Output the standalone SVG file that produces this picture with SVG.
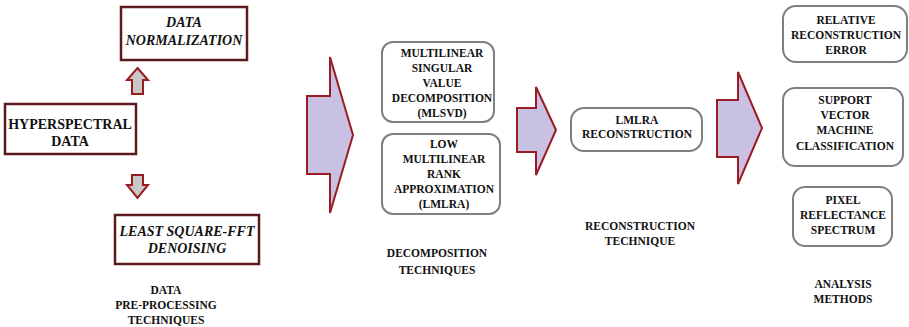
<svg xmlns="http://www.w3.org/2000/svg" width="909" height="327" viewBox="0 0 909 327">
<style>
.bg{fill:#ffffff}
.sq{fill:#ffffff;stroke:#5a1a1e;stroke-width:2.5}
.rr{fill:#ffffff;stroke:#7f7f7f;stroke-width:2}
.big{fill:#c9c1e3;stroke:#9a1c22;stroke-width:2;stroke-linejoin:miter}
.sm{fill:#c8c8c8;stroke:#9a1c22;stroke-width:2}
text{font-family:"Liberation Serif","DejaVu Serif",serif;font-weight:bold;fill:#111111;text-anchor:middle}
.t{font-size:11.5px}
.it{font-size:14px;font-style:italic}
.hd{font-size:14px}
</style>
<rect class="bg" x="0" y="0" width="909" height="327"/>
<g id="connectors">
  <polygon class="sm" points="137.5,68 148,80 143,80 143,94 132,94 132,80 127,80"/>
  <polygon class="sm" points="132,175 143,175 143,185 148,185 137.5,198 127,185 132,185"/>
  <polygon class="big" points="307,96 330,96 330,57 353,135 330,213 330,174 307,174"/>
  <polygon class="big" points="517,108 536,108 536,87 556,130 536,175 536,152 517,152"/>
  <polygon class="big" points="717,100 738,100 738,72 762,128 738,184 738,157 717,157"/>
</g>
<g id="hyperspectral">
  <rect class="sq" x="5" y="104" width="131" height="50"/>
  <text class="hd" x="70" y="129">HYPERSPECTRAL</text>
  <text class="hd" x="70" y="146">DATA</text>
</g>
<g id="normalization">
  <rect class="sq" x="121" y="7" width="126" height="53"/>
  <text class="it" x="184" y="27">DATA</text>
  <text class="it" x="184" y="45">NORMALIZATION</text>
</g>
<g id="denoising">
  <rect class="sq" x="115" y="215" width="144" height="49"/>
  <text class="it" x="187" y="236">LEAST SQUARE-FFT</text>
  <text class="it" x="187" y="253">DENOISING</text>
</g>
<g id="label-preprocessing">
  <text class="t" x="166" y="294">DATA</text>
  <text class="t" x="166" y="309">PRE-PROCESSING</text>
  <text class="t" x="166" y="324">TECHNIQUES</text>
</g>
<g id="mlsvd">
  <rect class="rr" x="382" y="42" width="112" height="80" rx="11"/>
  <text class="t" x="442" y="57">MULTILINEAR</text>
  <text class="t" x="442" y="72">SINGULAR</text>
  <text class="t" x="442" y="87">VALUE</text>
  <text class="t" x="442" y="102">DECOMPOSITION</text>
  <text class="t" x="442" y="117">(MLSVD)</text>
</g>
<g id="lmlra">
  <rect class="rr" x="382" y="134" width="118" height="80" rx="11"/>
  <text class="t" x="444" y="148">LOW</text>
  <text class="t" x="444" y="163">MULTILINEAR</text>
  <text class="t" x="444" y="178">RANK</text>
  <text class="t" x="444" y="193">APPROXIMATION</text>
  <text class="t" x="444" y="208">(LMLRA)</text>
</g>
<g id="label-decomposition">
  <text class="t" x="437" y="257">DECOMPOSITION</text>
  <text class="t" x="437" y="274">TECHNIQUES</text>
</g>
<g id="reconstruction">
  <rect class="rr" x="571" y="108" width="131" height="43" rx="13"/>
  <text class="t" x="637" y="124">LMLRA</text>
  <text class="t" x="637" y="138">RECONSTRUCTION</text>
</g>
<g id="label-reconstruction">
  <text class="t" x="640" y="230">RECONSTRUCTION</text>
  <text class="t" x="640" y="245">TECHNIQUE</text>
</g>
<g id="relative-error">
  <rect class="rr" x="783" y="6" width="124" height="56" rx="13"/>
  <text class="t" x="846" y="24">RELATIVE</text>
  <text class="t" x="846" y="39">RECONSTRUCTION</text>
  <text class="t" x="846" y="54">ERROR</text>
</g>
<g id="svm">
  <rect class="rr" x="783" y="88" width="120" height="78" rx="12"/>
  <text class="t" x="845" y="104">SUPPORT</text>
  <text class="t" x="845" y="119">VECTOR</text>
  <text class="t" x="845" y="134">MACHINE</text>
  <text class="t" x="845" y="150">CLASSIFICATION</text>
</g>
<g id="pixel">
  <rect class="rr" x="793" y="187" width="99" height="59" rx="12"/>
  <text class="t" x="843" y="204">PIXEL</text>
  <text class="t" x="843" y="219">REFLECTANCE</text>
  <text class="t" x="843" y="234">SPECTRUM</text>
</g>
<g id="label-analysis">
  <text class="t" x="843" y="288">ANALYSIS</text>
  <text class="t" x="843" y="303">METHODS</text>
</g>
</svg>
